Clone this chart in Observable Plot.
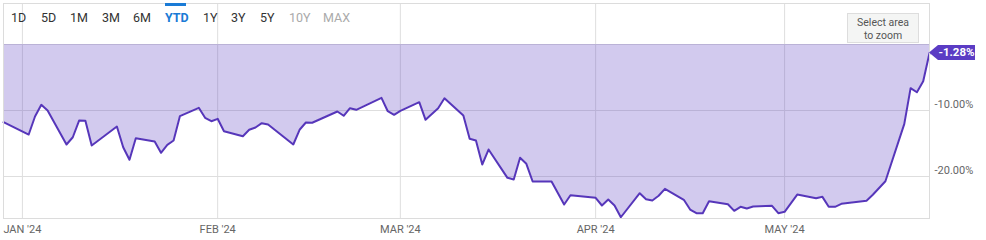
<!DOCTYPE html>
<html>
<head>
<meta charset="utf-8">
<script src="https://cdn.jsdelivr.net/npm/d3@7"></script>
<script src="https://cdn.jsdelivr.net/npm/@observablehq/plot@0.6"></script>
<style>
  html, body { margin: 0; padding: 0; background: #fff; }
  body { font-family: Roboto, "Noto Sans", sans-serif; }
  #wrap { position: relative; width: 986px; height: 240px; overflow: hidden; }
  #toolbar { position: absolute; left: 0; top: 0; height: 36px; width: 400px; font-size: 12.5px; color: #333; }
  #toolbar span { position: absolute; top: 10px; line-height: 16px; }
  #toolbar span.active { color: #1a7bd6; font-weight: bold; }
  #toolbar span.disabled { color: #aaa; }
  #toolbar .bar { position: absolute; top: 3px; height: 2.5px; background: #1a7bd6; }
  #zoombox { position: absolute; left: 847px; top: 13px; width: 72px; height: 30px; background: #f4f5f4; border: 1px solid #ddd; box-sizing: border-box; font-size: 10.5px; color: #555; text-align: center; line-height: 13px; padding-top: 2px; }
</style>
</head>
<body>
<div id="wrap">
  <div id="chart"></div>
  <div id="toolbar"></div>
  <div id="zoombox">Select area<br>to zoom</div>
</div>
<script>
// ---- data ----
const dates = [
  "2023-12-29","2024-01-02","2024-01-03","2024-01-04","2024-01-05","2024-01-08","2024-01-09","2024-01-10","2024-01-11","2024-01-12",
  "2024-01-16","2024-01-17","2024-01-18","2024-01-19","2024-01-22","2024-01-23","2024-01-24","2024-01-25","2024-01-26",
  "2024-01-29","2024-01-30","2024-01-31","2024-02-01","2024-02-02","2024-02-05","2024-02-06","2024-02-07","2024-02-08","2024-02-09",
  "2024-02-13","2024-02-14","2024-02-15","2024-02-16","2024-02-20","2024-02-21","2024-02-22","2024-02-23",
  "2024-02-27","2024-02-28","2024-02-29","2024-03-01","2024-03-04","2024-03-05","2024-03-07","2024-03-08",
  "2024-03-11","2024-03-12","2024-03-13","2024-03-14","2024-03-15","2024-03-18","2024-03-19","2024-03-20","2024-03-21","2024-03-22",
  "2024-03-25","2024-03-27","2024-03-28","2024-04-01","2024-04-02","2024-04-03","2024-04-04","2024-04-05",
  "2024-04-08","2024-04-09","2024-04-10","2024-04-11","2024-04-12","2024-04-15","2024-04-16","2024-04-17","2024-04-18","2024-04-19",
  "2024-04-22","2024-04-23","2024-04-24","2024-04-25","2024-04-26","2024-04-29","2024-04-30","2024-05-01","2024-05-03",
  "2024-05-06","2024-05-07","2024-05-08","2024-05-09","2024-05-10","2024-05-14","2024-05-15","2024-05-17",
  "2024-05-20","2024-05-21","2024-05-22","2024-05-23","2024-05-24"
];
const values = [
  -11.77,-13.64,-10.91,-9.14,-10.00,-15.15,-14.05,-11.52,-11.56,-15.30,
  -12.42,-15.56,-17.47,-14.20,-14.70,-16.41,-15.20,-14.55,-10.86,
  -9.59,-11.11,-11.62,-11.26,-13.14,-13.89,-12.92,-12.58,-11.92,-12.12,
  -15.15,-12.92,-11.82,-11.85,-10.15,-10.80,-9.65,-9.89,
  -8.08,-10.11,-10.65,-10.05,-8.74,-11.41,-9.65,-8.14,
  -10.76,-14.29,-14.55,-18.18,-15.91,-20.20,-20.45,-17.17,-18.08,-20.76,
  -20.76,-24.24,-22.83,-23.23,-24.39,-23.48,-24.39,-26.17,
  -22.53,-23.44,-23.64,-22.92,-21.86,-23.53,-25.00,-25.56,-25.56,-23.74,
  -24.20,-25.20,-24.59,-24.85,-24.55,-24.44,-25.56,-25.35,-22.73,
  -23.29,-23.08,-24.59,-24.59,-24.14,-23.68,-22.77,-20.71,
  -12.02,-6.62,-7.23,-5.56,-1.28
];
const yTicks = [0, -10, -20];
const yLabelTicks = [-10, -20];
const xStart = "2023-12-29";
const xEnd = "2024-05-24";
const monthTicks = ["2024-01-01","2024-02-01","2024-03-01","2024-04-01","2024-05-01"];
const ranges = ["1D","5D","1M","3M","6M","YTD","1Y","3Y","5Y","10Y","MAX"];
const rangeX = [11, 41, 70, 102, 133, 165, 203, 231, 260, 289, 323];
const activeRange = "YTD";
const disabledRanges = ["10Y","MAX"];
const lastLabel = "-1.28%";

// ---- build ----
const parse = d3.utcParse("%Y-%m-%d");
const data = dates.map((d, i) => ({date: parse(d), value: values[i]}));
const ticks = monthTicks.map(parse);
const last = data[data.length - 1];

const lineColor = "#5636ba";
const badgeColor = "#5b3cc4";
const fmtMonth = d3.utcFormat("%b '%y");

const badge = (index, scales) => {
  const x = scales.x(last.date), y = scales.y(last.value);
  const g = d3.create("svg:g");
  const h = 15, w = 46, tip = 9;
  g.append("path")
    .attr("d", `M${x},${y} L${x + tip},${y - h / 2} L${x + w},${y - h / 2} L${x + w},${y + h / 2} L${x + tip},${y + h / 2} Z`)
    .attr("fill", badgeColor);
  g.append("text")
    .attr("x", x + tip + (w - tip) / 2)
    .attr("y", y)
    .attr("dy", "0.35em")
    .attr("text-anchor", "middle")
    .attr("fill", "#fff")
    .attr("font-weight", "bold")
    .attr("font-size", "11.5px")
    .text(lastLabel);
  return g.node();
};

const plot = Plot.plot({
  width: 986,
  height: 240,
  marginLeft: 3,
  marginRight: 57,
  marginTop: 3,
  marginBottom: 22,
  style: {fontFamily: "Roboto, sans-serif", fontSize: "11px", background: "transparent", overflow: "visible"},
  x: {type: "utc", domain: [parse(xStart), parse(xEnd)]},
  y: {domain: [-26.36, 6.21]},
  marks: [
    Plot.gridX(ticks, {stroke: "#dedede", strokeOpacity: 1}),
    Plot.gridY(yTicks, {stroke: "#dedede", strokeOpacity: 1}),
    Plot.areaY(data, {x: "date", y1: 0, y2: "value", fill: "#5a3bc0", fillOpacity: 0.27}),
    Plot.lineY(data, {x: "date", y: "value", stroke: lineColor, strokeWidth: 2, strokeLinejoin: "round"}),
    Plot.frame({stroke: "#dcdcdc"}),
    Plot.axisX(ticks, {tickSize: 0, tickPadding: 7, tickFormat: d => fmtMonth(d).toUpperCase(), fill: "#666", fontSize: 11}),
    Plot.axisY(yLabelTicks, {anchor: "right", tickSize: 0, tickPadding: 5, dy: -6, textAnchor: "start", tickFormat: d => d.toFixed(2) + "%", fill: "#666", fontSize: 11, label: null}),
    badge
  ]
});
document.getElementById("chart").appendChild(plot);

// toolbar
const tb = document.getElementById("toolbar");
ranges.forEach((r, i) => {
  const s = document.createElement("span");
  s.textContent = r;
  s.style.left = rangeX[i] + "px";
  if (r === activeRange) s.className = "active";
  if (disabledRanges.includes(r)) s.className = "disabled";
  tb.appendChild(s);
  if (r === activeRange) {
    const b = document.createElement("div");
    b.className = "bar";
    b.style.left = rangeX[i] + "px";
    b.style.width = "21px";
    tb.appendChild(b);
  }
});
</script>
</body>
</html>
